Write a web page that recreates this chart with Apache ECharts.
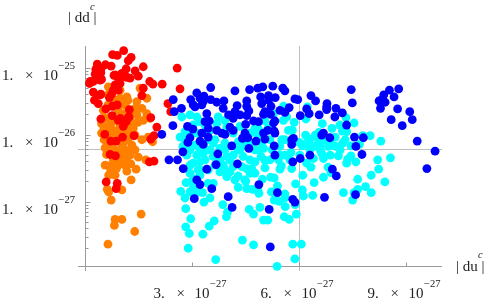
<!DOCTYPE html>
<html><head><meta charset="utf-8">
<style>html,body{margin:0;padding:0;background:#fff}#c{width:491px;height:301px}</style>
<script src="https://cdn.jsdelivr.net/npm/echarts@6/dist/echarts.min.js"></script>
</head><body><div id="c"></div>
<script>
// x: |du^c| in units of 1e-27; y: log10 |dd^c|
const xRange = [-0.21, 9.994];
const yRange = [-28.03, -24.67];
const xCross = 0, yCross = -27.96;
const guideX = 6, guideY = -26.22;
const xTicks = [3, 6, 9];
const xTickLabels = [['3.', '\u221227'], ['6.', '\u221227'], ['9.', '\u221227']];
const yMajorTicks = [-25, -26, -27];
const yTickLabels = [['1.', '\u221225'], ['1.', '\u221226'], ['1.', '\u221227']];
const yMinorFactors = [2, 3, 4, 5, 6, 7, 8, 9];
const yMinorDecades = [-28, -27, -26];

const redPoints = [[1.07,-24.74],[.76,-24.80],[.89,-24.81],[1.28,-24.84],[1.20,-24.89],[.33,-24.94],[.56,-24.95],[.72,-24.97],[1.62,-24.98],[2.57,-25.00],[.29,-25.02],[.43,-25.02],[1.14,-25.01],[1.39,-25.04],[.27,-25.09],[.43,-25.07],[.80,-25.11],[1.08,-25.08],[1.48,-25.12],[.22,-25.20],[.11,-25.23],[.41,-25.18],[.92,-25.15],[1.17,-25.14],[1.80,-25.20],[1.89,-25.24],[2.15,-25.24],[2.65,-25.31],[.92,-25.23],[.83,-25.25],[1.62,-25.30],[.78,-25.33],[.22,-25.36],[.43,-25.39],[.73,-25.39],[1.58,-25.41],[.25,-25.48],[.36,-25.53],[2.31,-25.53],[2.39,-25.65],[.57,-25.61],[.75,-25.57],[.89,-25.55],[.75,-25.71],[.43,-25.76],[1.83,-25.74],[1.20,-25.74],[.92,-25.78],[1.14,-25.80],[1.06,-25.87],[2.00,-25.88],[.54,-25.99],[1.04,-26.03],[1.36,-26.01],[1.92,-26.01],[1.83,-26.06],[.71,-26.09],[.86,-26.09],[.69,-26.29],[.84,-26.31],[1.79,-26.40],[1.92,-26.39],[.58,-26.70],[.89,-26.72],[.86,-26.80],[.83,-25.10],[1.02,-25.08],[1.11,-25.13],[1.25,-25.15],[.97,-25.23],[.83,-25.30],[.92,-25.33],[.41,-25.08],[.45,-25.17],[.41,-25.40],[.67,-25.44],[1.23,-25.62],[.97,-25.75],[1.11,-25.79],[1.22,-25.73],[.13,-25.20]];

const orangePoints = [[.64,-25.28],[1.53,-25.30],[1.72,-25.45],[1.44,-25.50],[1.16,-25.43],[.97,-25.45],[.69,-25.45],[.50,-25.63],[1.58,-25.60],[1.72,-25.68],[1.25,-25.63],[1.44,-25.70],[1.62,-25.78],[1.81,-25.75],[.45,-25.83],[.59,-25.88],[.78,-25.93],[.45,-25.97],[1.34,-25.90],[1.34,-25.83],[1.20,-25.97],[1.58,-26.07],[1.76,-26.03],[1.88,-26.10],[.59,-26.07],[.73,-26.15],[1.30,-26.15],[1.06,-26.12],[.87,-25.97],[1.06,-25.68],[.69,-25.73],[.59,-26.29],[1.27,-26.25],[.97,-26.26],[1.48,-26.33],[1.69,-26.37],[1.06,-26.36],[1.27,-26.43],[1.42,-26.51],[1.16,-26.54],[1.02,-26.42],[.87,-26.50],[.73,-26.47],[.64,-26.46],[.78,-26.37],[.69,-26.57],[.65,-26.60],[1.28,-26.67],[1.02,-26.82],[.61,-26.81],[.65,-26.85],[.72,-26.97],[1.56,-27.18],[1.02,-27.26],[.83,-27.26],[.81,-27.35],[1.38,-27.44],[.63,-27.63],[.83,-25.48],[1.11,-25.55],[.63,-25.55],[.91,-25.63],[.74,-25.81],[.97,-25.85],[1.19,-25.85],[.55,-25.75],[1.11,-25.93],[.63,-25.97],[.83,-26.07],[1.11,-26.03],[1.33,-25.66],[1.47,-25.81],[.83,-26.22],[.55,-26.19],[.69,-26.19],[1.11,-26.22],[1.19,-26.07],[.97,-26.37],[1.16,-26.34],[.83,-26.60],[.91,-26.45],[1.11,-26.45],[.69,-25.85],[.52,-26.07],[.52,-25.90],[1.19,-25.48],[.83,-25.33],[.63,-25.40],[.97,-25.33],[1.39,-25.60],[1.39,-26.00],[.97,-25.55],[.91,-25.93],[1.25,-25.78],[1.02,-26.15],[.74,-26.00],[1.25,-26.30],[.55,-26.45],[1.39,-26.22]];

const cyanPoints = [[2.67,-26.84],[2.79,-26.94],[2.81,-27.10],[2.95,-27.25],[2.81,-27.37],[3.49,-26.94],[3.32,-27.00],[3.85,-27.04],[3.98,-27.15],[3.95,-27.22],[3.61,-27.28],[3.47,-27.36],[4.59,-27.11],[4.71,-27.18],[4.89,-27.08],[4.99,-27.27],[4.28,-26.78],[4.49,-26.69],[4.52,-26.80],[4.68,-26.81],[4.83,-26.81],[4.28,-26.61],[2.91,-27.47],[3.29,-27.48],[2.88,-27.69],[3.65,-27.86],[4.40,-27.57],[4.71,-27.64],[5.81,-27.63],[6.05,-27.63],[5.87,-27.85],[5.37,-27.96],[5.11,-27.27],[5.57,-27.22],[5.71,-27.26],[5.91,-27.18],[5.60,-27.07],[5.88,-27.04],[5.29,-26.97],[5.43,-26.99],[5.59,-26.88],[5.59,-26.94],[5.21,-26.85],[6.08,-26.82],[6.11,-26.91],[6.37,-26.90],[7.23,-26.86],[7.49,-26.97],[7.53,-26.86],[7.63,-26.81],[7.85,-26.77],[8.01,-26.86],[8.39,-26.70],[7.63,-26.66],[8.01,-26.60],[8.22,-26.51],[8.19,-26.37],[8.55,-26.34],[7.58,-26.40],[7.32,-26.42],[7.44,-26.31],[7.35,-26.36],[7.09,-26.31],[6.80,-26.48],[6.88,-26.56],[6.67,-26.63],[6.41,-26.71],[6.09,-26.60],[5.89,-26.73],[5.38,-26.76],[4.86,-26.87],[5.19,-26.63],[5.29,-26.64],[4.96,-26.66],[5.49,-26.46],[5.45,-26.51],[5.78,-26.50],[6.20,-26.42],[6.32,-26.48],[6.62,-26.27],[6.67,-26.35],[6.39,-26.35],[5.41,-26.37],[5.17,-26.37],[5.03,-26.38],[4.92,-26.32],[4.75,-26.40],[4.66,-26.50],[4.52,-26.50],[4.75,-26.57],[4.61,-26.57],[4.47,-26.67],[5.76,-26.26],[5.55,-25.57],[5.64,-25.73],[5.55,-25.78],[5.85,-25.81],[5.69,-25.93],[5.80,-25.93],[5.50,-26.07],[5.59,-26.07],[5.27,-25.68],[5.03,-25.79],[4.75,-25.90],[4.80,-25.97],[6.22,-25.58],[6.18,-25.76],[7.30,-25.74],[6.64,-25.83],[7.53,-25.82],[6.91,-25.90],[7.13,-25.85],[7.20,-25.94],[7.32,-25.95],[6.17,-26.00],[6.44,-26.00],[6.55,-25.96],[7.00,-26.03],[6.29,-26.06],[6.53,-26.07],[6.72,-26.07],[6.93,-26.15],[7.21,-26.12],[6.58,-26.15],[6.41,-26.17],[6.08,-26.16],[5.99,-26.11],[6.20,-26.12],[7.02,-26.17],[6.81,-26.17],[7.44,-26.16],[7.68,-26.14],[7.77,-26.01],[7.98,-26.01],[8.28,-26.09],[4.94,-26.12],[4.66,-26.12],[4.61,-25.97],[4.66,-26.20],[4.99,-26.20],[5.45,-26.17],[4.84,-25.90],[4.84,-26.00],[5.12,-25.90],[2.70,-25.73],[2.93,-25.70],[3.12,-25.73],[3.72,-25.73],[4.33,-25.87],[2.65,-26.03],[2.73,-26.17],[3.58,-26.12],[4.42,-26.03],[3.02,-25.85],[3.21,-25.80],[3.68,-25.83],[3.96,-25.88],[4.14,-25.97],[3.91,-26.12],[4.28,-26.10],[3.30,-26.17],[3.77,-26.20],[2.79,-25.95],[3.12,-25.97],[2.84,-26.30],[3.12,-26.30],[3.30,-26.27],[3.02,-26.42],[3.21,-26.40],[2.93,-26.57],[3.16,-26.52],[3.02,-26.65],[2.82,-26.71],[2.98,-26.70],[2.93,-26.85],[3.12,-26.86],[3.28,-26.86],[3.44,-26.72],[3.58,-26.72],[3.96,-26.62],[3.77,-26.55],[4.05,-26.55],[3.86,-26.45],[3.58,-26.32],[3.96,-26.32],[4.14,-26.30],[4.38,-26.47],[4.42,-26.32],[4.14,-26.47],[3.44,-26.52],[3.21,-26.60],[3.01,-26.80],[3.49,-26.22],[2.93,-26.22],[3.07,-26.15],[3.77,-26.37],[3.35,-26.37],[4.28,-26.22],[4.75,-26.22],[5.03,-26.49],[5.23,-26.22],[5.59,-26.30],[2.79,-26.07],[3.44,-26.07],[3.35,-25.85],[3.91,-25.78],[2.93,-26.00],[3.21,-26.22],[3.49,-25.93],[3.63,-26.07],[3.91,-26.22],[4.05,-26.37],[4.33,-26.22],[3.35,-26.22],[3.63,-26.45],[3.91,-26.52],[4.19,-26.67],[4.61,-26.37],[4.84,-26.22],[4.47,-26.15],[4.89,-26.00],[5.17,-26.07],[5.45,-26.30],[5.73,-26.37],[6.01,-26.30],[6.29,-26.22],[6.58,-26.22],[6.86,-26.30],[7.14,-26.22],[7.28,-26.07],[3.21,-26.52],[2.93,-26.45]];

const bluePoints = [[4.60,-25.32],[4.83,-25.30],[4.97,-25.28],[5.25,-25.27],[5.53,-25.30],[5.59,-25.34],[7.45,-25.32],[8.52,-25.33],[8.78,-25.31],[8.36,-25.40],[8.65,-25.43],[8.23,-25.49],[8.40,-25.51],[8.31,-25.47],[7.48,-25.52],[8.27,-25.60],[8.75,-25.61],[9.09,-25.65],[8.57,-25.77],[9.16,-25.77],[8.88,-25.86],[9.30,-26.09],[9.80,-26.24],[6.32,-25.41],[6.45,-25.49],[5.87,-25.46],[5.95,-25.47],[6.77,-25.53],[6.76,-25.58],[6.76,-25.62],[7.02,-25.60],[7.20,-25.67],[6.99,-25.73],[6.55,-25.70],[6.20,-25.61],[6.27,-25.68],[6.02,-25.71],[7.32,-25.85],[7.54,-26.03],[7.79,-26.04],[7.58,-26.17],[6.85,-26.04],[6.67,-25.97],[6.62,-26.00],[4.91,-25.43],[5.13,-25.41],[5.32,-25.44],[5.13,-25.48],[4.94,-25.53],[5.20,-25.57],[5.71,-25.59],[5.45,-25.63],[5.59,-25.66],[5.03,-25.65],[4.99,-25.69],[5.19,-25.69],[4.52,-25.49],[4.52,-25.57],[4.58,-25.64],[4.52,-25.71],[4.71,-25.79],[4.85,-25.80],[5.31,-25.79],[5.27,-25.82],[4.49,-25.84],[5.11,-25.93],[4.99,-25.97],[5.29,-25.94],[5.31,-25.97],[4.55,-26.04],[4.78,-26.09],[5.03,-26.06],[5.83,-26.05],[5.78,-26.07],[5.78,-26.14],[5.29,-26.16],[4.58,-26.20],[9.57,-26.50],[5.31,-26.30],[5.81,-26.40],[6.02,-26.35],[6.29,-26.30],[7.75,-26.29],[6.92,-26.51],[7.03,-26.61],[4.86,-26.74],[5.38,-26.86],[6.70,-26.93],[7.57,-26.89],[5.81,-26.96],[5.87,-27.00],[5.15,-27.11],[5.18,-27.67],[3.51,-25.29],[4.19,-25.34],[3.12,-25.37],[2.46,-25.47],[2.95,-25.47],[3.21,-25.45],[3.32,-25.42],[3.51,-25.47],[3.07,-25.58],[3.02,-25.55],[3.30,-25.50],[3.68,-25.51],[3.88,-25.49],[2.49,-25.65],[2.69,-25.60],[3.86,-25.60],[4.25,-25.56],[3.40,-25.68],[3.26,-25.55],[4.19,-25.65],[4.33,-25.70],[4.01,-25.70],[3.47,-25.79],[2.45,-25.86],[2.86,-25.87],[3.01,-25.91],[3.44,-25.90],[3.68,-25.93],[3.82,-25.97],[2.14,-25.99],[3.26,-25.97],[2.93,-26.04],[3.44,-26.03],[3.21,-26.09],[2.87,-26.11],[4.10,-26.16],[4.05,-25.88],[4.14,-25.75],[3.35,-25.80],[3.91,-25.99],[4.14,-25.93],[4.47,-25.97],[4.40,-26.05],[3.30,-26.14],[3.71,-26.28],[2.73,-26.25],[2.34,-26.37],[2.58,-26.37],[2.74,-26.50],[3.66,-26.44],[4.26,-26.43],[3.40,-26.51],[3.12,-26.67],[3.21,-26.74],[3.54,-26.80],[3.05,-26.95],[4.00,-26.92],[4.11,-27.08]];

const AXIS = '#9a9a9a', GUIDE = '#bdbdbd', TEXT = '#222';
const SERIF = '"Liberation Serif","Times New Roman",serif';

function txt(x, y, s, size, extra) {
  return {type: 'text', silent: true, style: Object.assign({x, y, text: s, fill: TEXT, fontSize: size, fontFamily: SERIF, verticalAlign: 'middle', align: 'left'}, extra || {})};
}
function sci(left, midY, pair) {
  return [txt(left, midY, pair[0], 15), txt(left + 23, midY, '\u00d7', 15), txt(left + 41, midY, '10', 15), txt(left + 56.5, midY - 10, pair[1], 10.5)];
}
function seg(x1, y1, x2, y2, color) {
  return {type: 'line', silent: true, shape: {x1, y1, x2, y2}, style: {stroke: color, lineWidth: 1}};
}
const snap = v => Math.floor(v) + 0.5;

function renderAxes(params, api) {
  if (params.dataIndex !== 0) return {type: 'group', children: []};
  const c = [];
  const px = (x, y) => api.coord([x, y]);
  const yTop = px(0, yRange[1])[1], yBot = px(0, yRange[0])[1];
  const xL = px(xRange[0], 0)[0], xR = px(xRange[1], 0)[0];
  const ax = snap(px(xCross, 0)[0]), ay = snap(px(0, yCross)[1]);
  const gx = snap(px(guideX, 0)[0]), gy = snap(px(0, guideY)[1]);
  c.push(seg(gx, yTop, gx, yBot, GUIDE), seg(xL, gy, xR, gy, GUIDE));
  c.push(seg(ax, yTop, ax, yBot, AXIS), seg(xL, ay, xR, ay, AXIS));
  xTicks.forEach((t, i) => {
    const p = snap(px(t, 0)[0]);
    c.push(seg(p, ay, p, ay - 4, AXIS));
    c.push.apply(c, sci(p - 39, ay + 28, xTickLabels[i]));
  });
  yMajorTicks.forEach((t, i) => {
    const p = snap(px(0, t)[1]);
    c.push(seg(ax, p, ax + 5, p, AXIS));
    c.push.apply(c, sci(2, p + 8, yTickLabels[i]));
  });
  yMinorDecades.forEach(d => yMinorFactors.forEach(k => {
    const e = d + Math.log10(k);
    if (e <= yCross) return;
    const p = snap(px(0, e)[1]);
    c.push(seg(ax, p, ax + 3, p, AXIS));
  }));
  c.push(txt(68, 18, '| dd |', 15), txt(90, 7, 'c', 10.5, {fontStyle: 'italic'}));
  c.push(txt(456, 267, '| du |', 15), txt(478, 255, 'c', 10.5, {fontStyle: 'italic'}));
  return {type: 'group', children: c};
}
const dots = (data, color, z) => ({type: 'scatter', data, symbol: 'circle', symbolSize: 8.8, clip: false, silent: true, z, itemStyle: {color, opacity: 1}});

const chart = echarts.init(document.getElementById('c'), null, {renderer: 'canvas', width: 491, height: 301});
chart.setOption({
  animation: false,
  backgroundColor: '#fff',
  grid: {left: 78, top: 46, width: 364, height: 225},
  xAxis: {type: 'value', min: xRange[0], max: xRange[1], show: false},
  yAxis: {type: 'value', min: yRange[0], max: yRange[1], show: false},
  series: [
    {type: 'custom', renderItem: renderAxes, data: [[xCross, yCross]], clip: false, silent: true, z: 1},
    dots(orangePoints, '#ff8000', 2),
    dots(redPoints, '#ff0000', 3),
    dots(cyanPoints, '#00ffff', 4),
    dots(bluePoints, '#0000ff', 5)
  ]
});
</script></body></html>
